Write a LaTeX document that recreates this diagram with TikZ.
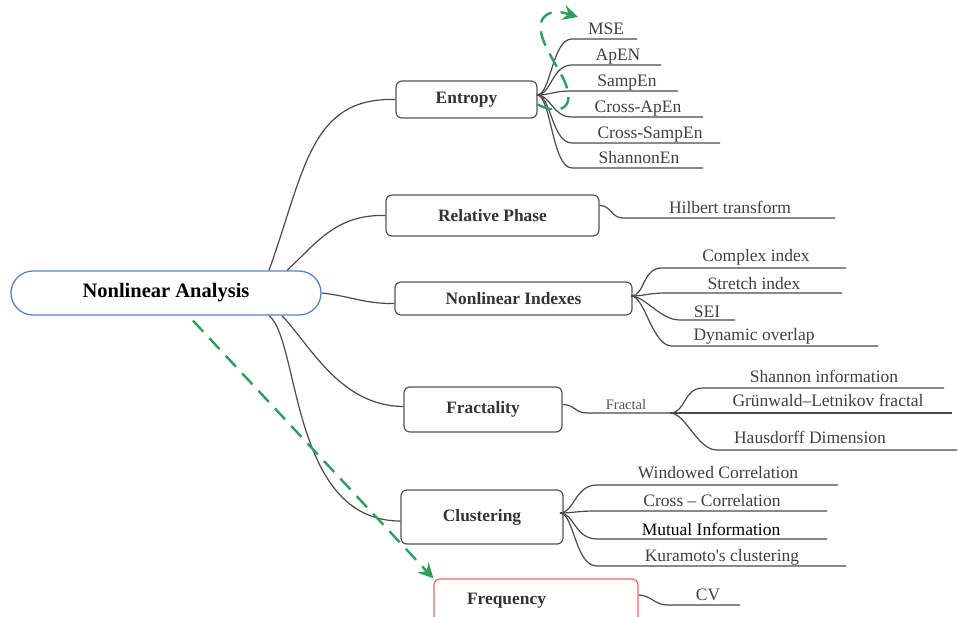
\documentclass[tikz,border=0pt]{standalone}
\usepackage{fontspec}
\setmainfont{Liberation Serif}
\usetikzlibrary{arrows.meta}

\definecolor{linea}{HTML}{4A4A4A}
\definecolor{borde}{HTML}{555555}
\definecolor{textocaja}{HTML}{333333}
\definecolor{textohoja}{HTML}{404040}
\definecolor{azul}{HTML}{5B84C8}
\definecolor{rojo}{HTML}{E0706A}
\definecolor{verde}{HTML}{2E9E5B}

\begin{document}
\begin{tikzpicture}[x=1pt, y=-1pt,
	caja/.style={draw=borde, line width=1.2pt, rounded corners=6pt, text=textocaja, font=\fontsize{17.4}{20}\selectfont\bfseries},
	hoja/.style={anchor=base, inner sep=0pt, text=textohoja, font=\fontsize{17.5}{20}\selectfont},
	rama/.style={draw=linea, line width=1.2pt},
	verdes/.style={draw=verde, line width=2.4pt, dash pattern=on 15pt off 9pt, -{Stealth[length=15pt, width=15pt, inset=5pt]}}]

\path[fill=white, use as bounding box] (0,0) rectangle (958,616);

\node[draw=azul, line width=1.3pt, rounded corners=22pt, minimum width=310pt, minimum height=44pt, font=\fontsize{20.5}{24}\selectfont\bfseries] (R) at (166,293) {Nonlinear Analysis};

% Ramas principales
\node[caja, minimum width=141pt, minimum height=37pt] (E) at (466.5,99.5) {Entropy};
\node[caja, minimum width=213pt, minimum height=41pt] (P) at (492.5,215.5) {Relative Phase};
\node[caja, minimum width=237pt, minimum height=33pt] (N) at (513.5,298.5) {Nonlinear Indexes};
\node[caja, minimum width=158pt, minimum height=45pt] (F) at (483,409.5) {Fractality};
\node[caja, minimum width=162pt, minimum height=54pt] (C) at (482,517) {Clustering};
\node[caja, draw=rojo, inner xsep=33pt, text width=138pt, align=left, minimum height=44pt] (Q) at (536,601) {Frequency};

\draw[rama] ([xshift=103pt]R.north) .. controls (305,170) and (310,97) .. (E.west);
\draw[rama] ([xshift=121pt]R.north) .. controls (315,245) and (335,214) .. (P.west);
\draw[rama] (R.east) .. controls (350,296) and (365,304) .. ([yshift=-5pt]N.west);
\draw[rama] ([xshift=116pt]R.south) .. controls (310,345) and (340,406) .. ([yshift=3pt]F.west);
\draw[rama] ([xshift=103pt]R.south) .. controls (300,340) and (290,521) .. ([yshift=-4pt]C.west);

% Entropy
\coordinate (Eo) at (537,95);
\foreach \t/\y/\xe/\xc [count=\i] in {MSE/39/637/606, ApEN/65/661/618, SampEn/91/678/627, Cross-ApEn/117/703/638, Cross-SampEn/143/720/650, ShannonEn/168/703/639}
{
	\coordinate (Ea\i) at (572,\y);
	\coordinate (Eb\i) at (\xe,\y);
	\draw[rama] (Eo) .. controls +(14,0) and +(-20,0) .. (Ea\i) -- (Eb\i);
	\node[hoja] (e\i) at (\xc,\y-5) {\t};
}

% Relative Phase
\coordinate (Pa) at (623,218);
\coordinate (Pb) at (835,218);
\draw[rama] ([yshift=10pt]P.east) .. controls +(12,0) and +(-12,0) .. (Pa) -- (Pb);
\node[hoja] (p1) at (730,213) {Hilbert transform};

% Nonlinear Indexes
\coordinate (No) at (631,296);
\foreach \t/\y/\xa/\xe/\xc/\yb [count=\i] in {Complex index/268/662/846/756/261, Stretch index/293/667/842/754/289, SEI/320/680/735/707/317, Dynamic overlap/346/672/878/754/340}
{
	\coordinate (Na\i) at (\xa,\y);
	\coordinate (Nb\i) at (\xe,\y);
	\draw[rama] (No) .. controls +(14,0) and +(-20,0) .. (Na\i) -- (Nb\i);
	\node[hoja] (n\i) at (\xc,\yb) {\t};
}

% Fractality
\coordinate (Fa) at (587,413);
\coordinate (Fo) at (670,413);
\draw[rama] ([yshift=5pt]F.east) .. controls +(12,0) and +(-12,0) .. (Fa) -- (Fo);
\node[hoja, text=borde, font=\fontsize{14.5}{16}\selectfont] (f0) at (626,409) {Fractal};
\foreach \t/\y/\xa/\xe/\xc/\yb [count=\i] in {Shannon information/388/703/944/824/382, Grünwald--Letnikov fractal/413/703/952/828/406, Hausdorff Dimension/450/717/957/810/443}
{
	\coordinate (Fa\i) at (\xa,\y);
	\coordinate (Fb\i) at (\xe,\y);
	\draw[rama] (Fo) .. controls +(16,0) and +(-20,0) .. (Fa\i) -- (Fb\i);
	\node[hoja] (f\i) at (\xc,\yb) {\t};
}

% Clustering
\coordinate (Co) at (560,513);
\foreach \t/\y/\xe/\xc/\yb/\col [count=\i] in {Windowed Correlation/485/838/718/478/textohoja, Cross -- Correlation/511/827/712/506/textohoja, Mutual Information/539/827/711/535/black, Kuramoto{\addfontfeatures{Ligatures=TeXOff}'}s clustering/566/846/722/561/textohoja}
{
	\coordinate (Ca\i) at (597,\y);
	\coordinate (Cb\i) at (\xe,\y);
	\draw[rama] (Co) .. controls +(14,0) and +(-22,0) .. (Ca\i) -- (Cb\i);
	\node[hoja, text=\col] (c\i) at (\xc,\yb) {\t};
}

% Frequency
\coordinate (Qa) at (667,605);
\coordinate (Qb) at (740,605);
\draw[rama] ([yshift=6pt]Q.east) .. controls +(12,0) and +(-12,0) .. (Qa) -- (Qb);
\node[hoja] (q1) at (708,600) {CV};

% Flechas verdes
\draw[verdes] ([xshift=27pt, yshift=-5pt]R.south) -- (Q.north west);
\draw[verdes] ([yshift=-5pt]E.east) .. controls (560,116) and (578,108) .. (563,78) .. controls (553,58) and (528,25) .. (548,14) .. controls (556,10) and (565,13) .. (578,17);

\end{tikzpicture}
\end{document}
